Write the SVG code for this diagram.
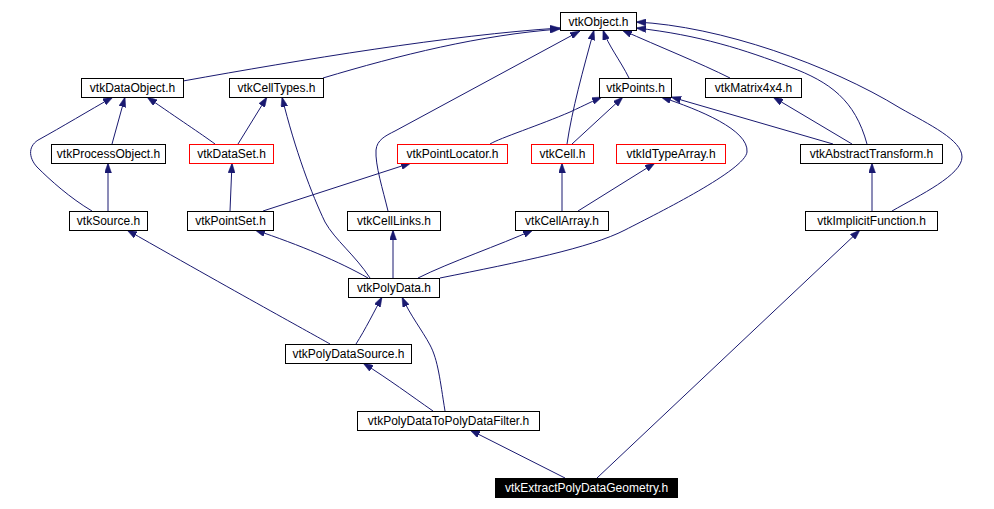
<svg xmlns="http://www.w3.org/2000/svg" width="994" height="509" viewBox="0 0 994 509">
<style>
rect{fill:#fff;stroke:#000;stroke-width:1}
.red rect{stroke:#ff0000}
.cur rect{fill:#000}
text{font-family:"Liberation Sans",Arial,sans-serif;font-size:12px;fill:#000;text-anchor:middle}
.cur text{fill:#fff}
#edges path{fill:none;stroke:#191970;stroke-width:1;marker-end:url(#ah)}
</style>
<defs>
<marker id="ah" viewBox="0 0 10 7" refX="10" refY="3.5" markerWidth="10" markerHeight="7" markerUnits="userSpaceOnUse" orient="auto">
<path d="M0,0 L10,3.5 L0,7 z" fill="#191970" stroke="#191970" stroke-width="0.5"/>
</marker>
</defs>
<rect x="0" y="0" width="994" height="509" style="fill:#fff;stroke:none"/>
<g id="edges">
<path d="M183,81 C300,60 450,35 560,28"/>
<path d="M323,78 C400,55 480,35 560,29"/>
<path d="M388,211 C383,190 375,165 376,150 C377,140 385,136 395,131 L580,31"/>
<path d="M567,144 C572,110 583,70 594,30"/>
<path d="M629,78 C620,60 608,45 603,30"/>
<path d="M730,78 C700,63 660,47 622,30"/>
<path d="M867,144 C855,100 830,82 790,67 C745,50 700,35 636,28"/>
<path d="M892,211 C920,195 962,175 962,157 C962,140 930,125 900,108 C830,65 720,26 636,22"/>
<path d="M112,144 L125,97"/>
<path d="M92,211 C70,198 50,180 37,167 C28,157 28,145 40,139 C60,128 90,110 113,97"/>
<path d="M215,144 C200,133 180,120 147,97"/>
<path d="M238,144 L267,97"/>
<path d="M230,211 L232,163"/>
<path d="M370,278 C355,255 335,240 325,222 C312,195 295,150 282,97"/>
<path d="M263,211 L411,163"/>
<path d="M368,278 C340,262 300,245 255,230"/>
<path d="M393,278 L393,230"/>
<path d="M418,278 C450,262 500,245 533,230"/>
<path d="M440,278 C520,262 590,248 625,230 C660,212 745,170 747,152 C749,130 700,110 661,97"/>
<path d="M833,144 L671,97"/>
<path d="M852,144 L773,97"/>
<path d="M490,144 C500,138 540,125 570,112 C585,105 595,100 602,97"/>
<path d="M572,144 L623,97"/>
<path d="M562,211 L562,163"/>
<path d="M578,211 L655,163"/>
<path d="M872,211 L872,163"/>
<path d="M108,211 L108,163"/>
<path d="M330,344 C318,337 250,300 127,230"/>
<path d="M356,344 C365,330 375,310 382,297"/>
<path d="M445,411 C440,380 438,360 430,345 C422,330 410,315 402,297"/>
<path d="M433,411 C410,395 390,380 363,363"/>
<path d="M565,478 L470,430"/>
<path d="M597,478 L860,230"/>
</g>
<g id="vtkObject"><rect x="560.5" y="12.5" width="76" height="18"/><text x="598.5" y="26">vtkObject.h</text></g>
<g id="vtkDataObject"><rect x="81.5" y="78.5" width="102" height="19"/><text x="132.5" y="92">vtkDataObject.h</text></g>
<g id="vtkCellTypes"><rect x="229.5" y="78.5" width="94" height="19"/><text x="276.5" y="92">vtkCellTypes.h</text></g>
<g id="vtkPoints"><rect x="599.5" y="78.5" width="72" height="19"/><text x="635.5" y="92">vtkPoints.h</text></g>
<g id="vtkMatrix4x4"><rect x="705.5" y="78.5" width="96" height="19"/><text x="753.5" y="92">vtkMatrix4x4.h</text></g>
<g id="vtkProcessObject"><rect x="51.5" y="144.5" width="114" height="19"/><text x="108.5" y="158">vtkProcessObject.h</text></g>
<g id="vtkDataSet" class="red"><rect x="189.5" y="144.5" width="84" height="19"/><text x="231.5" y="158">vtkDataSet.h</text></g>
<g id="vtkPointLocator" class="red"><rect x="397.5" y="144.5" width="110" height="19"/><text x="452.5" y="158">vtkPointLocator.h</text></g>
<g id="vtkCell" class="red"><rect x="531.5" y="144.5" width="62" height="19"/><text x="562.5" y="158">vtkCell.h</text></g>
<g id="vtkIdTypeArray" class="red"><rect x="616.5" y="144.5" width="109" height="19"/><text x="671" y="158">vtkIdTypeArray.h</text></g>
<g id="vtkAbstractTransform"><rect x="800.5" y="144.5" width="142" height="19"/><text x="871.5" y="158">vtkAbstractTransform.h</text></g>
<g id="vtkSource"><rect x="69.5" y="211.5" width="78" height="19"/><text x="108.5" y="225">vtkSource.h</text></g>
<g id="vtkPointSet"><rect x="187.5" y="211.5" width="86" height="19"/><text x="230.5" y="225">vtkPointSet.h</text></g>
<g id="vtkCellLinks"><rect x="347.5" y="211.5" width="93" height="19"/><text x="394" y="225">vtkCellLinks.h</text></g>
<g id="vtkCellArray"><rect x="515.5" y="211.5" width="93" height="19"/><text x="562" y="225">vtkCellArray.h</text></g>
<g id="vtkImplicitFunction"><rect x="805.5" y="211.5" width="132" height="19"/><text x="871.5" y="225">vtkImplicitFunction.h</text></g>
<g id="vtkPolyData"><rect x="348.5" y="278.5" width="91" height="19"/><text x="394" y="292">vtkPolyData.h</text></g>
<g id="vtkPolyDataSource"><rect x="285.5" y="344.5" width="126" height="19"/><text x="348.5" y="358">vtkPolyDataSource.h</text></g>
<g id="vtkPolyDataToPolyDataFilter"><rect x="357.5" y="411.5" width="182" height="19"/><text x="448.5" y="425">vtkPolyDataToPolyDataFilter.h</text></g>
<g id="vtkExtractPolyDataGeometry" class="cur"><rect x="495.5" y="478.5" width="182" height="19"/><text x="586.5" y="492">vtkExtractPolyDataGeometry.h</text></g>
</svg>
